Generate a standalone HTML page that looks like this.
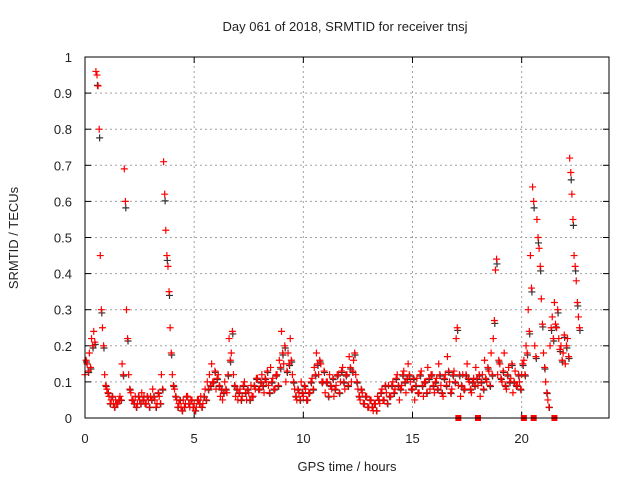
<!DOCTYPE html>
<html><head><meta charset="utf-8"><style>
body{margin:0;background:#fff;}
svg text{font-family:"Liberation Sans",sans-serif;fill:#222;}
</style></head><body>
<svg id="chart" width="640" height="480">
<text x="345" y="31" font-size="13" text-anchor="middle">Day 061 of 2018, SRMTID for receiver tnsj</text>
<text x="347" y="471" font-size="13" text-anchor="middle">GPS time / hours</text>
<text transform="translate(18,238) rotate(-90)" font-size="13" text-anchor="middle">SRMTID / TECUs</text>
<g id="grid"></g><g id="ticks"></g><g id="marks"></g>
<rect x="85" y="57" width="524" height="361" fill="none" stroke="#000" stroke-width="1"/>
</svg>
<script>
const xTicks=[0,5,10,15,20];
const yTicks=[0,0.1,0.2,0.3,0.4,0.5,0.6,0.7,0.8,0.9,1];
const yTickLabels=["0","0.1","0.2","0.3","0.4","0.5","0.6","0.7","0.8","0.9","1"];
const seriesA=[0.12,0.15,0.18,0.22,0.24,0.96,0.92,0.45,0.25,0.12,
0.08,0.06,0.05,0.04,0.05,0.04,0.06,0.15,0.69,0.30,
0.12,0.07,0.05,0.06,0.04,0.05,0.07,0.06,0.04,0.05,
0.06,0.08,0.05,0.04,0.06,0.12,0.71,0.52,0.42,0.25,
0.12,0.08,0.05,0.04,0.03,0.05,0.04,0.06,0.03,0.05,
0.04,0.03,0.05,0.06,0.04,0.08,0.10,0.12,0.15,0.10,
0.08,0.12,0.06,0.05,0.10,0.07,0.22,0.18,0.12,0.06,
0.05,0.08,0.06,0.10,0.05,0.07,0.09,0.06,0.08,0.11,
0.08,0.12,0.07,0.10,0.09,0.14,0.11,0.08,0.12,0.16,
0.24,0.15,0.10,0.18,0.22,0.12,0.08,0.05,0.07,0.10,
0.06,0.08,0.05,0.07,0.11,0.14,0.18,0.12,0.15,0.10,
0.07,0.10,0.12,0.08,0.06,0.09,0.12,0.10,0.14,0.08,
0.12,0.17,0.10,0.16,0.12,0.08,0.05,0.07,0.04,0.06,
0.03,0.05,0.02,0.04,0.06,0.04,0.08,0.05,0.07,0.09,
0.06,0.10,0.08,0.12,0.05,0.09,0.13,0.07,0.15,0.10,
0.08,0.05,0.11,0.07,0.13,0.06,0.10,0.14,0.08,0.12,
0.07,0.11,0.15,0.09,0.06,0.12,0.17,0.10,0.08,0.13,
0.22,0.09,0.06,0.12,0.08,0.15,0.10,0.07,0.11,0.14,
0.09,0.06,0.12,0.16,0.10,0.13,0.18,0.22,0.41,0.12,
0.15,0.10,0.18,0.08,0.14,0.11,0.07,0.13,0.09,0.10,
0.12,0.16,0.20,0.30,0.45,0.64,0.20,0.55,0.47,0.33,
0.18,0.10,0.05,0.20,0.28,0.32,0.25,0.22,0.20,0.18,
0.15,0.22,0.72,0.62,0.45,0.38,0.28];
const seriesB=[0.16,0.13,0.14,0.20,0.21,0.95,0.80,0.30,0.20,0.09,
0.07,0.04,0.06,0.03,0.04,0.05,0.05,0.12,0.60,0.22,
0.08,0.05,0.04,0.03,0.06,0.04,0.05,0.04,0.06,0.03,
0.05,0.06,0.03,0.07,0.04,0.08,0.62,0.45,0.35,0.18,
0.09,0.06,0.03,0.05,0.02,0.03,0.06,0.04,0.05,0.03,
0.02,0.05,0.04,0.03,0.06,0.05,0.08,0.09,0.10,0.13,
0.11,0.09,0.08,0.07,0.08,0.12,0.16,0.24,0.09,0.08,
0.07,0.05,0.09,0.07,0.08,0.05,0.06,0.09,0.11,0.08,
0.10,0.09,0.11,0.13,0.07,0.10,0.08,0.12,0.09,0.14,
0.18,0.20,0.13,0.15,0.16,0.10,0.06,0.08,0.05,0.07,
0.09,0.05,0.07,0.10,0.08,0.12,0.15,0.16,0.10,0.13,
0.10,0.06,0.09,0.11,0.08,0.12,0.07,0.13,0.10,0.12,
0.09,0.14,0.13,0.18,0.10,0.06,0.08,0.04,0.06,0.03,
0.05,0.03,0.04,0.02,0.05,0.07,0.05,0.09,0.04,0.06,
0.09,0.07,0.11,0.09,0.08,0.12,0.10,0.11,0.12,0.08,
0.11,0.09,0.07,0.12,0.09,0.10,0.07,0.11,0.12,0.09,
0.10,0.08,0.12,0.07,0.11,0.09,0.13,0.07,0.12,0.10,
0.25,0.12,0.09,0.08,0.12,0.11,0.08,0.10,0.09,0.11,
0.12,0.10,0.08,0.11,0.14,0.09,0.12,0.27,0.44,0.16,
0.11,0.13,0.09,0.12,0.10,0.15,0.10,0.09,0.12,0.08,
0.15,0.12,0.18,0.24,0.36,0.60,0.17,0.50,0.42,0.26,
0.14,0.07,0.03,0.25,0.22,0.26,0.30,0.19,0.16,0.23,
0.20,0.17,0.68,0.55,0.42,0.32,0.25];
const zeroTimes=[17.1,18.0,20.1,20.55,21.5];
const NS="http://www.w3.org/2000/svg";
const X0=85,X1=609,Y0=418,Y1=57,XMAX=24;
function xs(t){return X0+(X1-X0)*t/XMAX;}
function ys(v){return Y0-(Y0-Y1)*v;}
function mk(tag,attrs,parent){const e=document.createElementNS(NS,tag);for(const k in attrs)e.setAttribute(k,attrs[k]);parent.appendChild(e);return e;}
const grid=document.getElementById('grid'),ticks=document.getElementById('ticks'),marks=document.getElementById('marks');
xTicks.forEach(t=>{const x=xs(t);
 if(t>0){const g=mk('line',{x1:x,x2:x,y1:Y0,y2:Y1,stroke:'#a0a0a0','stroke-dasharray':'2,3'},grid);
 
 }
 const a=mk('line',{x1:x,x2:x,y1:Y0,y2:Y0-6,stroke:'#000'},ticks);
 
 
 const b=mk('line',{x1:x,x2:x,y1:Y1,y2:Y1+6,stroke:'#000'},ticks);
 
 
 const l=mk('text',{x:x,y:443,'font-size':13,'text-anchor':'middle'},ticks);l.textContent=String(t);
 
 
});
yTicks.forEach((v,i)=>{const y=ys(v);
 if(v>0&&v<1){const g=mk('line',{x1:X0,x2:X1,y1:y,y2:y,stroke:'#a0a0a0','stroke-dasharray':'2,3'},grid);
 
 }
 const a=mk('line',{x1:X0,x2:X0+6,y1:y,y2:y,stroke:'#000'},ticks);
 
 
 const b=mk('line',{x1:X1,x2:X1-6,y1:y,y2:y,stroke:'#000'},ticks);
 
 
 const l=mk('text',{x:72,y:y+5,'font-size':13,'text-anchor':'end'},ticks);l.textContent=yTickLabels[i];
 
 
});
function cross(t,v,color,name){const x=xs(t),y=ys(v);
 const p=mk('path',{d:`M${x-3.5},${y}h7M${x},${y-3.5}v7`,stroke:color,'stroke-width':1.2,fill:'none'},marks);
 
 }
seriesB.forEach((v,i)=>cross(i*0.1+0.07,v*0.97,'#333','srmtid-point-black'));
seriesA.forEach((v,i)=>cross(i*0.1,v,'#ff0000','srmtid-point'));
seriesB.forEach((v,i)=>cross(i*0.1+0.05,v,'#ff0000','srmtid-point'));
zeroTimes.forEach(t=>{const r=mk('rect',{x:xs(t)-3,y:Y0-3,width:6,height:6,fill:'#ff0000'},marks);
 
 });
</script>
</body></html>
